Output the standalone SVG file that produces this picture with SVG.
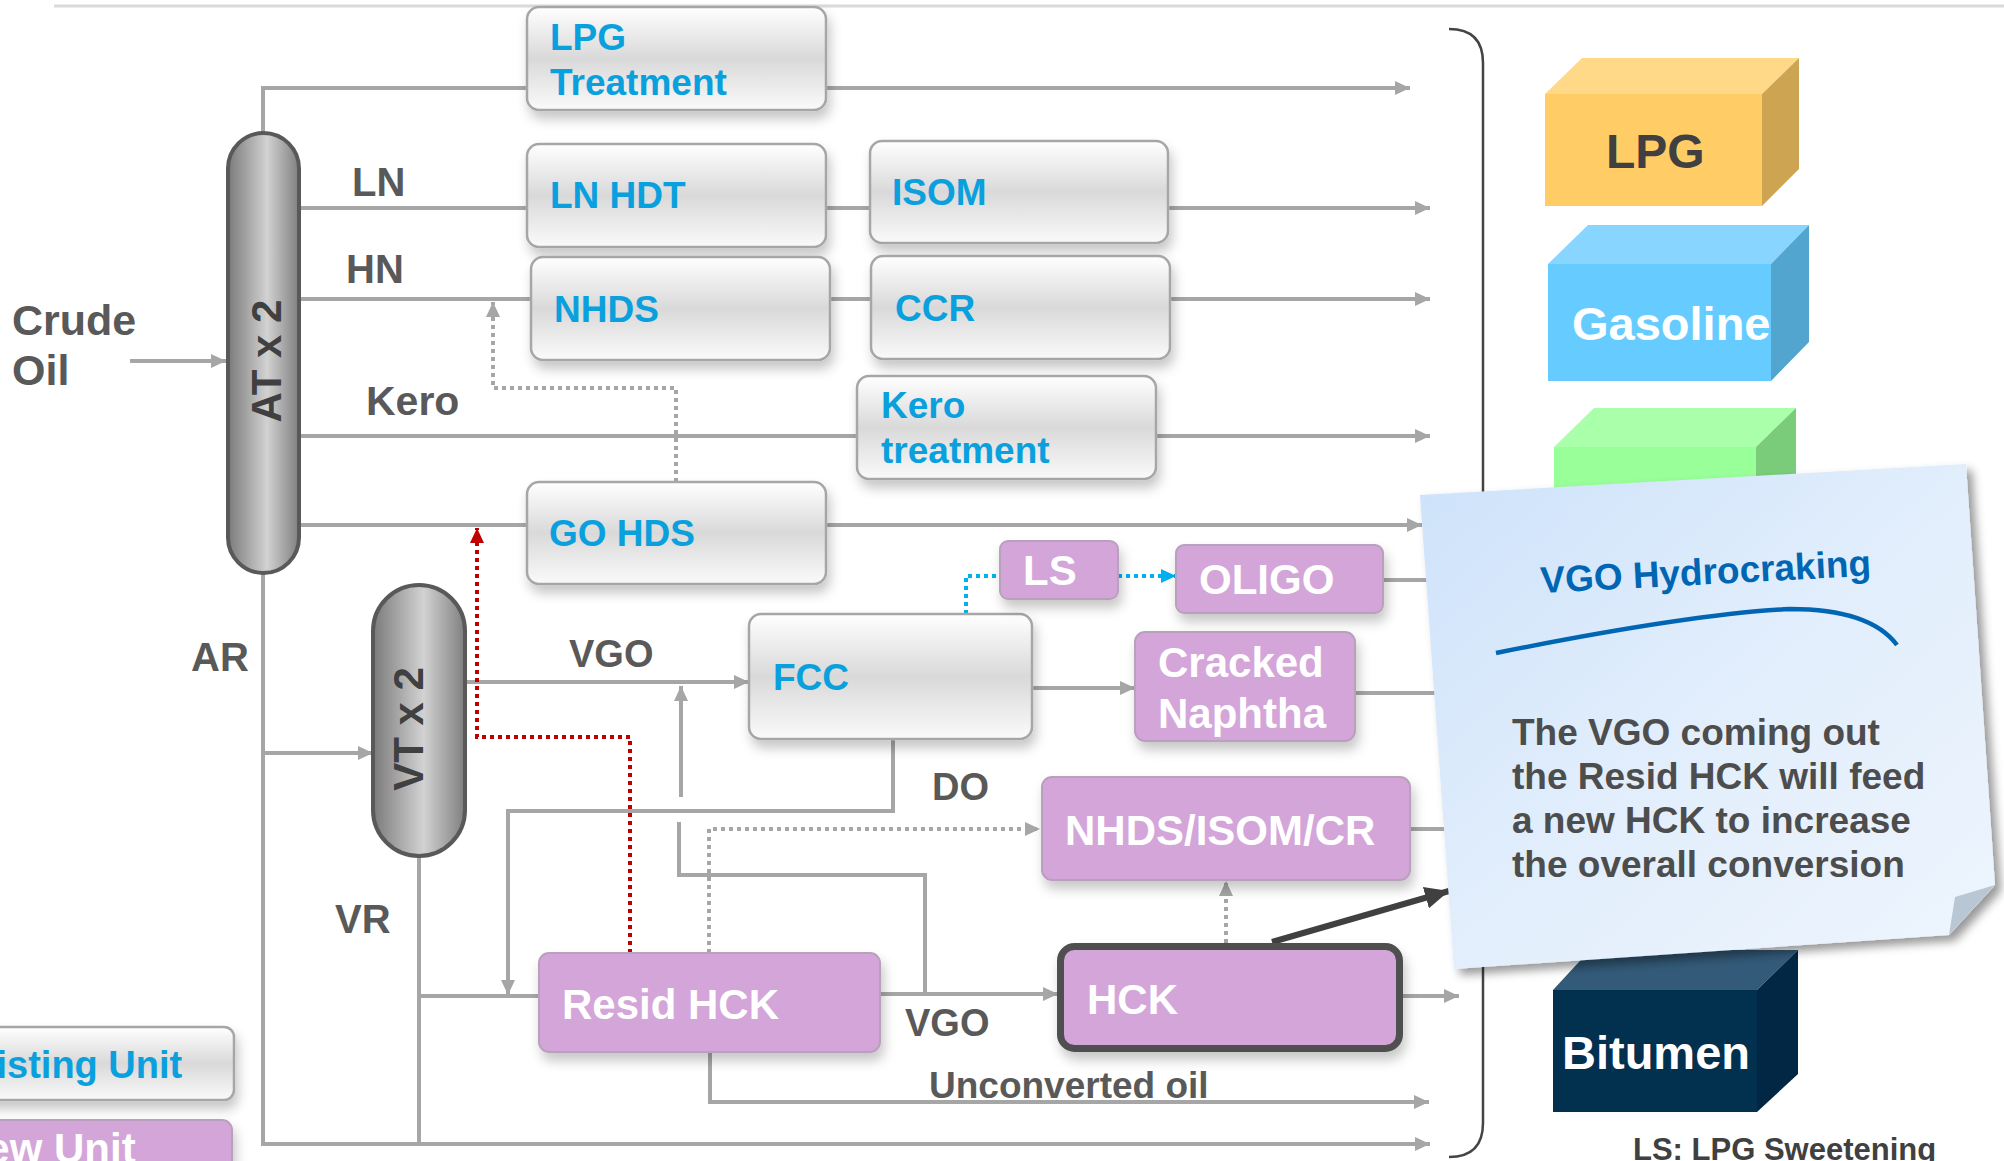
<svg xmlns="http://www.w3.org/2000/svg" width="2004" height="1161" viewBox="0 0 2004 1161">
<defs>
<style>
text{font-family:"Liberation Sans",Arial,sans-serif;font-weight:bold}
.lbl{fill:#595959;font-size:40px}
.blu{fill:#0aa0dd;font-size:37px}
.wht{fill:#ffffff;font-size:42px}
.ln{stroke:#a6a6a6;stroke-width:4;fill:none}
.dg{stroke:#a6a6a6;stroke-width:4;fill:none;stroke-dasharray:4 4}
.dr{stroke:#c00000;stroke-width:4;fill:none;stroke-dasharray:4 4}
.db{stroke:#00b0f0;stroke-width:4;fill:none;stroke-dasharray:4 4}
.ex{fill:url(#gbox);stroke:#a6a6a6;stroke-width:2.5;filter:url(#sh)}
.nw{fill:#d4a5d9;stroke:#b9a0bd;stroke-width:2;filter:url(#sh)}
.col{fill:url(#gcol);stroke:#595959;stroke-width:4}
.note{fill:#4d4d4d;font-size:37px}
</style>
<linearGradient id="gbox" x1="0" y1="0" x2="0" y2="1">
<stop offset="0" stop-color="#ffffff"/>
<stop offset="0.5" stop-color="#d9d9d9"/>
<stop offset="1" stop-color="#fafafa"/>
</linearGradient>
<linearGradient id="gcol" x1="0" y1="0" x2="1" y2="0">
<stop offset="0" stop-color="#7a7a7a"/>
<stop offset="0.55" stop-color="#d2d2d2"/>
<stop offset="1" stop-color="#7f7f7f"/>
</linearGradient>
<linearGradient id="gnote" x1="0" y1="0" x2="1" y2="1">
<stop offset="0" stop-color="#cde2fa"/>
<stop offset="0.5" stop-color="#e2eefc"/>
<stop offset="1" stop-color="#eef5fd"/>
</linearGradient>
<filter id="sh" x="-10%" y="-10%" width="130%" height="150%">
<feDropShadow dx="3" dy="8" stdDeviation="6" flood-color="#000" flood-opacity="0.22"/>
</filter>
<filter id="nsh" x="-10%" y="-10%" width="130%" height="130%">
<feDropShadow dx="6" dy="6" stdDeviation="5" flood-color="#000" flood-opacity="0.4"/>
</filter>
<marker id="ag" markerUnits="userSpaceOnUse" markerWidth="16" markerHeight="16" refX="15" refY="8" orient="auto">
<path d="M0,1 L15,8 L0,15 z" fill="#a6a6a6"/>
</marker>
<marker id="ar" markerUnits="userSpaceOnUse" markerWidth="16" markerHeight="16" refX="15" refY="8" orient="auto">
<path d="M0,1 L15,8 L0,15 z" fill="#c00000"/>
</marker>
<marker id="ab" markerUnits="userSpaceOnUse" markerWidth="16" markerHeight="16" refX="15" refY="8" orient="auto">
<path d="M0,1 L15,8 L0,15 z" fill="#00b0f0"/>
</marker>
<marker id="ad" markerUnits="userSpaceOnUse" markerWidth="26" markerHeight="26" refX="24" refY="13" orient="auto">
<path d="M0,2 L24,13 L0,24 z" fill="#404040"/>
</marker>
</defs>
<rect width="2004" height="1161" fill="#ffffff"/>
<line x1="54" y1="6" x2="2004" y2="6" stroke="#dadada" stroke-width="3"/>

<!-- bracket -->
<path d="M1449,29 Q1483,29 1483,63 L1483,1123 Q1483,1157 1449,1157" fill="none" stroke="#444" stroke-width="2.5"/>

<g id="connectors">
<path class="ln" d="M263,133 V88 H527"/>
<path class="ln" d="M826,88 H1410" marker-end="url(#ag)"/>
<path class="ln" d="M300,208 H527 M826,208 H869"/>
<path class="ln" d="M1168,208 H1430" marker-end="url(#ag)"/>
<path class="ln" d="M300,299 H530 M829,299 H870"/>
<path class="ln" d="M1169,299 H1430" marker-end="url(#ag)"/>
<path class="ln" d="M300,436 H856"/>
<path class="ln" d="M1155,436 H1430" marker-end="url(#ag)"/>
<path class="ln" d="M300,525 H527"/>
<path class="ln" d="M826,525 H1422" marker-end="url(#ag)"/>
<path class="dg" d="M676,482 V388 H493 V302" marker-end="url(#ag)"/>
<path class="ln" d="M130,361 H226" marker-end="url(#ag)"/>
<path class="ln" d="M263,573 V1144 H1430" marker-end="url(#ag)"/>
<path class="ln" d="M263,753 H373" marker-end="url(#ag)"/>
<path class="ln" d="M419,856 V1144 M419,996 H539"/>
<path class="ln" d="M466,682 H749" marker-end="url(#ag)"/>
<path class="ln" d="M893,739 V811 H508 V995" marker-end="url(#ag)"/>
<path class="ln" d="M925,994 V875 H679 V822"/>
<path class="ln" d="M681,797 V686" marker-end="url(#ag)"/>
<path class="ln" d="M880,994 H1058" marker-end="url(#ag)"/>
<path class="ln" d="M710,1052 V1102 H1429" marker-end="url(#ag)"/>
<path class="dr" d="M630,953 V737 H477 V528" marker-end="url(#ar)"/>
<path class="dg" d="M709,953 V829 H1040" marker-end="url(#ag)"/>
<path class="db" d="M966,614 V576 H1000"/>
<path class="db" d="M1118,576 H1176" marker-end="url(#ab)"/>
<path class="ln" d="M1032,688 H1135" marker-end="url(#ag)"/>
<path class="ln" d="M1383,580 H1440 M1355,693 H1440 M1410,829 H1450"/>
<path class="dg" d="M1226,943 V881" marker-end="url(#ag)"/>
<path class="ln" d="M1403,996 H1459" marker-end="url(#ag)"/>
<path d="M1272,942 L1449,891" stroke="#404040" stroke-width="6" fill="none" marker-end="url(#ad)"/>
</g>

<g id="labels">
<text class="lbl" x="12" y="335" style="font-size:43px">Crude</text>
<text class="lbl" x="12" y="385" style="font-size:43px">Oil</text>
<text class="lbl" x="352" y="196">LN</text>
<text class="lbl" x="346" y="283">HN</text>
<text class="lbl" x="366" y="415" style="font-size:41px">Kero</text>
<text class="lbl" x="191" y="671">AR</text>
<text class="lbl" x="335" y="933">VR</text>
<text class="lbl" x="569" y="667" style="font-size:38px">VGO</text>
<text class="lbl" x="932" y="800" style="font-size:38px">DO</text>
<text class="lbl" x="905" y="1036" style="font-size:38px">VGO</text>
<text class="lbl" x="929" y="1098" style="font-size:37px">Unconverted oil</text>
</g>

<g id="at">
<rect class="col" x="228" y="133" width="71" height="440" rx="35.5"/>
<text transform="translate(281,361) rotate(-90)" text-anchor="middle" fill="#404040" font-size="42">AT x 2</text>
</g>
<g id="vt">
<rect class="col" x="373" y="585" width="92" height="271" rx="46"/>
<text transform="translate(423,729) rotate(-90)" text-anchor="middle" fill="#404040" font-size="42">VT x 2</text>
</g>

<g id="lpg-treatment"><rect class="ex" x="527" y="7" width="299" height="103" rx="12"/><text class="blu" x="550" y="50">LPG</text><text class="blu" x="550" y="95">Treatment</text></g>
<g id="ln-hdt"><rect class="ex" x="527" y="144" width="299" height="103" rx="12"/><text class="blu" x="550" y="208">LN HDT</text></g>
<g id="isom"><rect class="ex" x="870" y="141" width="298" height="102" rx="12"/><text class="blu" x="892" y="205">ISOM</text></g>
<g id="nhds"><rect class="ex" x="531" y="257" width="299" height="103" rx="12"/><text class="blu" x="554" y="322">NHDS</text></g>
<g id="ccr"><rect class="ex" x="871" y="256" width="299" height="103" rx="12"/><text class="blu" x="895" y="321">CCR</text></g>
<g id="kero-treatment"><rect class="ex" x="857" y="376" width="299" height="103" rx="12"/><text class="blu" x="881" y="418">Kero</text><text class="blu" x="881" y="463">treatment</text></g>
<g id="go-hds"><rect class="ex" x="527" y="482" width="299" height="102" rx="12"/><text class="blu" x="549" y="546">GO HDS</text></g>
<g id="fcc"><rect class="ex" x="749" y="614" width="283" height="125" rx="12"/><text class="blu" x="773" y="690">FCC</text></g>

<g id="ls"><rect class="nw" x="1000" y="541" width="118" height="58" rx="8"/><text class="wht" x="1023" y="585">LS</text></g>
<g id="oligo"><rect class="nw" x="1176" y="545" width="207" height="68" rx="8"/><text class="wht" x="1199" y="594" font-size="40">OLIGO</text></g>
<g id="cracked-naphtha"><rect class="nw" x="1135" y="632" width="220" height="109" rx="10"/><text class="wht" x="1158" y="677" font-size="41">Cracked</text><text class="wht" x="1158" y="728" font-size="41">Naphtha</text></g>
<g id="nhds-isom-cr"><rect class="nw" x="1042" y="777" width="368" height="103" rx="10"/><text class="wht" x="1065" y="845" font-size="41">NHDS/ISOM/CR</text></g>
<g id="resid-hck"><rect class="nw" x="539" y="953" width="341" height="99" rx="10"/><text class="wht" x="562" y="1019">Resid HCK</text></g>
<g id="hck"><rect x="1060.5" y="946.5" width="339" height="102" rx="14" fill="#d4a5d9" stroke="#505050" stroke-width="7" filter="url(#sh)"/><text class="wht" x="1087" y="1014">HCK</text></g>

<g id="legend-existing"><rect class="ex" x="-60" y="1027" width="294" height="73" rx="10"/><text class="blu" x="-50" y="1078" style="font-size:38px">Existing Unit</text></g>
<g id="legend-new"><rect class="nw" x="-60" y="1120" width="292" height="70" rx="10"/><text class="wht" x="-44" y="1163" font-size="38">New Unit</text></g>

<g id="prod-lpg">
<polygon points="1545,94 1582,58 1799,58 1762,94" fill="#ffd888"/>
<polygon points="1762,94 1799,58 1799,169 1762,206" fill="#cca452"/>
<rect x="1545" y="94" width="217" height="112" fill="#ffcc66"/>
<text x="1606" y="168" fill="#404040" font-size="48">LPG</text>
</g>
<g id="prod-gasoline">
<polygon points="1548,264 1588,225 1809,225 1771,264" fill="#88d6ff"/>
<polygon points="1771,264 1809,225 1809,342 1771,381" fill="#52a5cf"/>
<rect x="1548" y="264" width="223" height="117" fill="#66ccff"/>
<text x="1572" y="340" fill="#ffffff" font-size="47">Gasoline</text>
</g>
<g id="prod-green">
<polygon points="1554,447 1594,408 1796,408 1756,447" fill="#aaffaa"/>
<polygon points="1756,447 1796,408 1796,560 1756,600" fill="#7acc7a"/>
<rect x="1554" y="447" width="202" height="153" fill="#99ff99"/>
</g>
<g id="prod-bitumen">
<polygon points="1553,990 1590,950 1798,950 1757,990" fill="#335a78"/>
<polygon points="1757,990 1798,950 1798,1074 1757,1112" fill="#012744"/>
<rect x="1553" y="990" width="204" height="122" fill="#02304f"/>
<text x="1562" y="1069" fill="#ffffff" font-size="47">Bitumen</text>
</g>

<g id="note">
<polygon points="1420,495 1966,464 1995,885 1949,935 1454,969" fill="url(#gnote)" filter="url(#nsh)"/>
<polygon points="1995,885 1955,897 1949,935" fill="#b9c6d4"/>
<text transform="translate(1541,593) rotate(-3)" fill="#0066b3" font-size="37">VGO Hydrocraking</text>
<path d="M1496,653 Q1690,614 1790,609 Q1870,609 1897,645" fill="none" stroke="#0066b3" stroke-width="4.5"/>
<text class="note" x="1512" y="745">The VGO coming out</text>
<text class="note" x="1512" y="789">the Resid HCK will feed</text>
<text class="note" x="1512" y="833">a new HCK to increase</text>
<text class="note" x="1512" y="877">the overall conversion</text>
</g>

<text x="1633" y="1160" fill="#404040" font-size="31">LS: LPG Sweetening</text>
</svg>
